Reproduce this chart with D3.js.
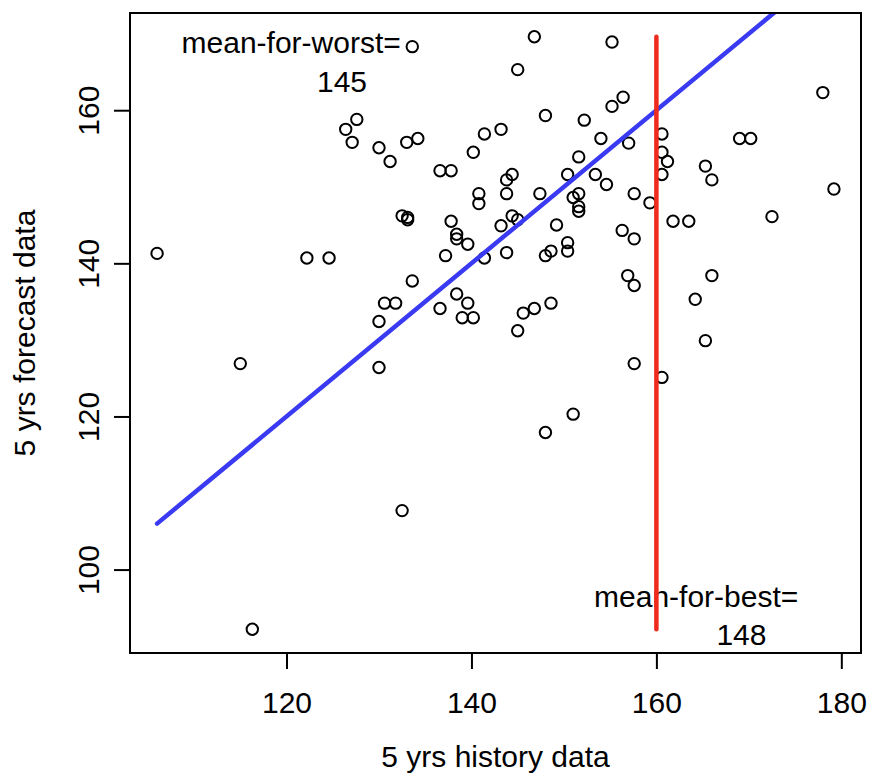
<!DOCTYPE html>
<html>
<head>
<meta charset="utf-8">
<script src="https://d3js.org/d3.v7.min.js"></script>
<style>
  body { margin: 0; background: #fff; }
  svg text { font-family: 'Liberation Sans', Arial, Helvetica, sans-serif; fill: #000; }
</style>
</head>
<body>
<svg width="869" height="779"></svg>
<script>
/* global d3 */

// 5 yrs history (x) vs 5 yrs forecast (y)
const history = [
  106.0, 115.0, 116.3, 122.2, 124.6, 126.4, 127.6, 127.1, 130.0, 131.2,
  130.0, 130.6, 131.8, 130.0, 132.5, 133.6, 133.6, 132.5, 133.1, 133.1,
  133.0, 134.2, 136.6, 137.8, 136.6, 137.2, 137.8, 138.4, 138.4, 138.4,
  139.0, 139.6, 139.6, 140.2, 140.2, 140.8, 140.8, 141.4, 141.4, 143.2,
  143.2, 143.8, 143.8, 143.8, 144.4, 144.4, 145.0, 145.0, 145.0, 145.6,
  146.8, 146.8, 147.4, 148.0, 148.0, 148.0, 148.6, 148.6, 149.2, 150.4,
  150.4, 150.4, 151.0, 151.0, 151.6, 151.6, 151.6, 151.6, 152.2, 153.4,
  154.0, 154.6, 155.2, 155.2, 156.4, 156.3, 156.9, 157.0, 157.6, 157.6,
  157.6, 157.6, 159.3, 160.6, 160.6, 161.2, 160.6, 160.6, 161.8, 163.5,
  164.2, 165.3, 165.3, 166.0, 166.0, 169.0, 170.2, 172.5, 178.0, 179.2,
];
const forecast = [
  141.3, 126.9, 92.2, 140.7, 140.7, 157.5, 158.8, 155.8, 155.1, 153.3,
  132.4, 134.8, 134.8, 126.4, 107.7, 168.3, 137.7, 146.2, 146.0, 145.7,
  155.8, 156.3, 152.1, 152.1, 134.1, 141.0, 145.5, 143.8, 143.2, 136.0,
  132.9, 142.5, 134.8, 132.9, 154.5, 149.1, 147.8, 156.9, 140.7, 157.5,
  144.9, 150.9, 149.1, 141.4, 151.6, 146.2, 165.3, 145.7, 131.2, 133.5,
  169.6, 134.1, 149.1, 159.3, 141.0, 117.9, 141.6, 134.8, 145.0, 151.6,
  142.7, 141.6, 148.6, 120.3, 153.9, 149.1, 147.4, 146.8, 158.7, 151.6,
  156.3, 150.3, 168.9, 160.5, 161.7, 144.3, 138.4, 155.7, 149.1, 143.2,
  137.1, 126.9, 147.9, 156.9, 154.5, 153.3, 151.6, 125.1, 145.5, 145.5,
  135.3, 152.7, 129.9, 150.9, 138.4, 156.3, 156.3, 146.1, 162.3, 149.7,
];

const xTicks = [120, 140, 160, 180];
const yTicks = [100, 120, 140, 160];
const bestCut = 160;

// annotation texts with their anchor in data units
const noteTexts = ['mean-for-worst=', '145', 'mean-for-best=', '148'];
const noteX = [120.5, 126.0, 164.3, 169.2];
const noteY = [167.5, 162.4, 95.1, 90.1];

const xTitle = '5 yrs history data';
const yTitle = '5 yrs forecast data';

const svg = d3.select('svg');
const plot = { left: 130, right: 861, top: 13, bottom: 653 };

// R style: data range widened by 4%
const pad = (ext) => {
  const d = (ext[1] - ext[0]) * 0.04;
  return [ext[0] - d, ext[1] + d];
};

const points = history.map((h, i) => ({ x: h, y: forecast[i] }));
const xExt = d3.extent(history);
const yExt = d3.extent(forecast);

const x = d3.scaleLinear().domain(pad(xExt)).range([plot.left, plot.right]);
const y = d3.scaleLinear().domain(pad(yExt)).range([plot.bottom, plot.top]);

svg.append('defs').append('clipPath')
    .attr('id', 'plot-clip')
  .append('rect')
    .attr('x', plot.left)
    .attr('y', plot.top)
    .attr('width', plot.right - plot.left)
    .attr('height', plot.bottom - plot.top);

// axes
const xAxis = svg.append('g')
    .attr('transform', `translate(0,${plot.bottom})`)
    .call(d3.axisBottom(x).tickValues(xTicks).tickSize(16).tickSizeOuter(0));
xAxis.select('.domain').remove();
xAxis.selectAll('line').attr('stroke', '#000').attr('stroke-width', 2);
xAxis.selectAll('text')
    .attr('y', 60)
    .attr('dy', null)
    .style('font-size', '30px');

const yAxis = svg.append('g')
    .attr('transform', `translate(${plot.left},0)`)
    .call(d3.axisLeft(y).tickValues(yTicks).tickSize(16).tickSizeOuter(0));
yAxis.select('.domain').remove();
yAxis.selectAll('line').attr('stroke', '#000').attr('stroke-width', 2);
yAxis.selectAll('text')
    .attr('x', 0)
    .attr('y', -31)
    .attr('dy', null)
    .attr('text-anchor', 'middle')
    .attr('transform', 'rotate(-90)')
    .style('font-size', '30px');

svg.append('text')
    .attr('x', (plot.left + plot.right) / 2)
    .attr('y', 767)
    .attr('text-anchor', 'middle')
    .style('font-size', '30px')
    .text(xTitle);

svg.append('text')
    .attr('transform', `translate(35,${(plot.top + plot.bottom) / 2}) rotate(-90)`)
    .attr('text-anchor', 'middle')
    .style('font-size', '30px')
    .text(yTitle);

// points
svg.append('g')
  .selectAll('circle')
  .data(points)
  .enter().append('circle')
    .attr('cx', d => x(d.x))
    .attr('cy', d => y(d.y))
    .attr('r', 5.7)
    .attr('fill', 'none')
    .attr('stroke', '#000')
    .attr('stroke-width', 2);

// notes
svg.append('g')
  .selectAll('text')
  .data(noteTexts)
  .enter().append('text')
    .attr('x', (d, i) => x(noteX[i]))
    .attr('y', (d, i) => y(noteY[i]))
    .attr('text-anchor', 'middle')
    .style('font-size', '30px')
    .text(d => d);

const lines = svg.append('g').attr('clip-path', 'url(#plot-clip)');

// y = x reference over the history range
lines.append('line')
    .attr('x1', x(xExt[0]))
    .attr('y1', y(xExt[0]))
    .attr('x2', x(xExt[1]))
    .attr('y2', y(xExt[1]))
    .attr('stroke', '#3a3af2')
    .attr('stroke-width', 4.5)
    .attr('stroke-linecap', 'round');

// cut for the best
lines.append('line')
    .attr('x1', x(bestCut))
    .attr('y1', y(yExt[0]))
    .attr('x2', x(bestCut))
    .attr('y2', y(yExt[1]))
    .attr('stroke', '#ee2b1c')
    .attr('stroke-width', 4.5)
    .attr('stroke-linecap', 'round');

// box
svg.append('rect')
    .attr('x', plot.left)
    .attr('y', plot.top)
    .attr('width', plot.right - plot.left)
    .attr('height', plot.bottom - plot.top)
    .attr('fill', 'none')
    .attr('stroke', '#000')
    .attr('stroke-width', 2);
</script>
</body>
</html>
